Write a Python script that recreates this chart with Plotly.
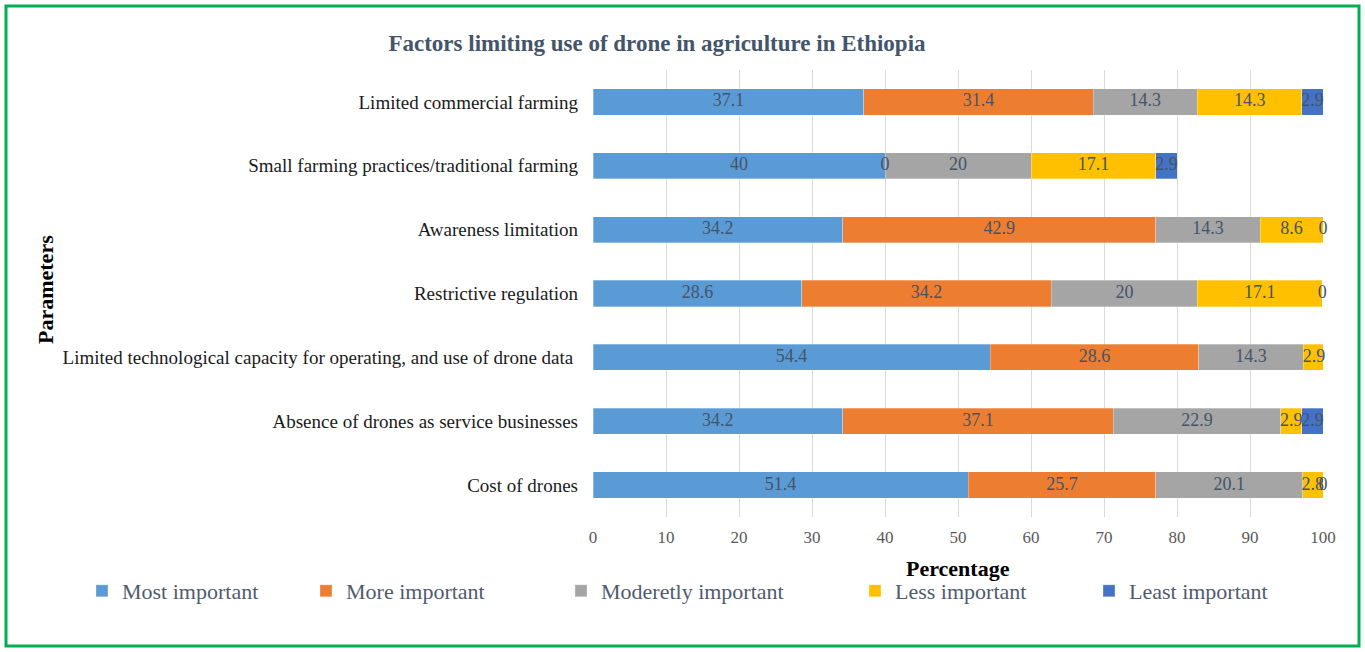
import plotly.graph_objects as go

categories = [
    "Cost of drones",
    "Absence of drones as service businesses",
    "Limited technological capacity for operating, and use of drone data ",
    "Restrictive regulation",
    "Awareness limitation",
    "Small farming practices/traditional farming",
    "Limited commercial farming",
]
series_names = ["Most important", "More important", "Moderetly important", "Less important", "Least important"]
most = [51.4, 34.2, 54.4, 28.6, 34.2, 40, 37.1]
more = [25.7, 37.1, 28.6, 34.2, 42.9, 0, 31.4]
moderately = [20.1, 22.9, 14.3, 20, 14.3, 20, 14.3]
less = [2.8, 2.9, 2.9, 17.1, 8.6, 17.1, 14.3]
least = [0, 2.9, None, 0, 0, 2.9, 2.9]
colors = ["#5B9BD5", "#ED7D31", "#A5A5A5", "#FFC000", "#4472C4"]
x_ticks = [0, 10, 20, 30, 40, 50, 60, 70, 80, 90, 100]

all_series = [most, more, moderately, less, least]
FONT = "Liberation Serif, serif"
LABEL_COLOR = "#44546A"

# plot area geometry (pixels)
L, R, T, B = 593, 42, 70, 135
W, H = 1365, 652
PW, PH = W - L - R, H - T - B

# legend left edges (pixels)
legend_x = [82, 306, 561, 855, 1089]
legend_ids = ["legend", "legend2", "legend3", "legend4", "legend5"]

fig = go.Figure()
cum = [0.0] * len(categories)
label_traces = []
for name, vals, col, lid in zip(series_names, all_series, colors, legend_ids):
    xs = [v if v is not None else 0 for v in vals]
    fig.add_trace(go.Bar(
        y=categories, x=xs, name=name, orientation="h", legend=lid,
        marker=dict(color=col, line=dict(color="rgba(255,255,255,0.6)", width=0.5)),
        hoverinfo="x+y+name",
    ))
    lx, ly, lt = [], [], []
    for i, v in enumerate(vals):
        if v is None:
            continue
        lx.append(cum[i] + v / 2)
        ly.append(categories[i])
        lt.append(f"{v:g}")
    label_traces.append(go.Scatter(
        x=lx, y=ly, text=lt, mode="text", textposition="middle center",
        textfont=dict(family=FONT, size=18, color=LABEL_COLOR),
        showlegend=False, hoverinfo="skip", cliponaxis=False,
    ))
    cum = [c + x for c, x in zip(cum, xs)]

for tr in label_traces:
    fig.add_trace(tr)

annotations = [
    dict(text="<b>Parameters</b>", xref="paper", yref="paper",
         x=(45 - L) / PW, y=(H - B - 290) / PH, textangle=-90,
         showarrow=False, xanchor="center", yanchor="middle",
         font=dict(family=FONT, size=22, color="black")),
    dict(text="<b>Percentage</b>", xref="paper", yref="paper",
         x=(958 - L) / PW, y=(H - B - 568) / PH,
         showarrow=False, xanchor="center", yanchor="middle",
         font=dict(family=FONT, size=22, color="black")),
]

shapes = [dict(type="rect", xref="paper", yref="paper",
               x0=(6 - L) / PW, x1=(1359 - L) / PW,
               y0=(H - B - 646) / PH, y1=(H - B - 6) / PH,
               line=dict(color="#00B050", width=3), fillcolor="rgba(0,0,0,0)")]

legend_common = dict(orientation="h", xref="container", yref="container",
                     xanchor="left", y=1 - 591 / H, yanchor="middle",
                     bgcolor="rgba(0,0,0,0)",
                     font=dict(family=FONT, size=22, color="#4F5B6E"))
legends = {lid: dict(legend_common, x=lx / W) for lid, lx in zip(legend_ids, legend_x)}

fig.update_layout(
    width=W, height=H,
    barmode="stack", bargap=0.59,
    paper_bgcolor="white", plot_bgcolor="white",
    margin=dict(l=L, r=R, t=T, b=B, autoexpand=False),
    title=dict(text="<b>Factors limiting use of drone in agriculture in Ethiopia</b>",
               x=657 / W, xanchor="center", y=1 - 43 / H, yanchor="middle",
               font=dict(family=FONT, size=23, color=LABEL_COLOR)),
    font=dict(family=FONT, color="#595959"),
    xaxis=dict(range=[0, 100], tickvals=x_ticks, showgrid=True, gridcolor="#D9D9D9",
               gridwidth=1, zeroline=False, showline=False, automargin=False,
               ticks="", ticklabelstandoff=8,
               tickfont=dict(family=FONT, size=17, color="#595959")),
    yaxis=dict(categoryorder="array", categoryarray=categories, range=[-0.5, 6.5],
               showgrid=False, showline=False, ticks="", ticklabelstandoff=14,
               automargin=False,
               tickfont=dict(family=FONT, size=19, color="#1a1a1a")),
    annotations=annotations,
    shapes=shapes,
    showlegend=True,
    **legends,
)

fig.write_html("out.html", config={"displayModeBar": False},
               post_script="document.body.style.margin='0px';")
